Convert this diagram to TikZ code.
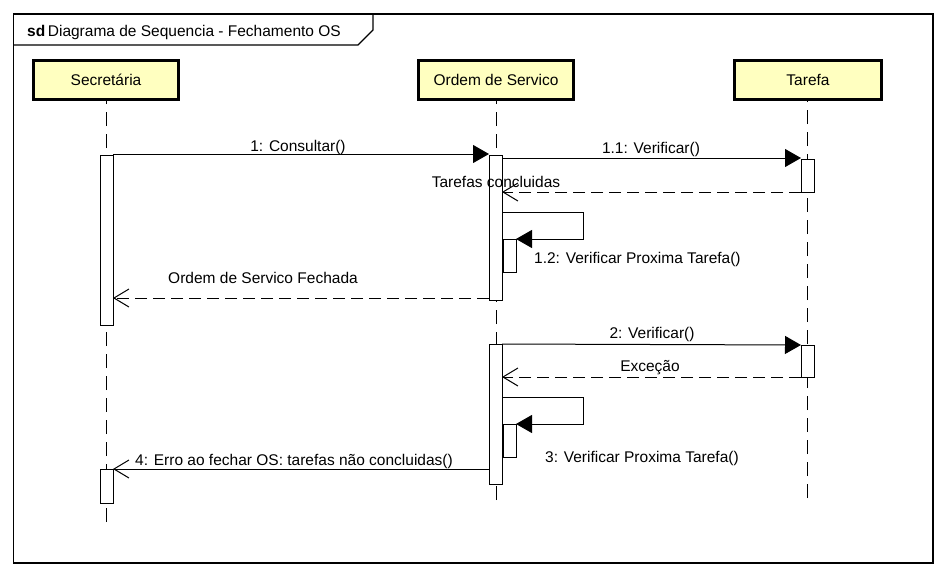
\documentclass[tikz,border=0pt]{standalone}
\usepackage{fontspec}
\setmainfont{Liberation Sans}
\usetikzlibrary{arrows.meta,calc}
\definecolor{headfill}{HTML}{FFFFC0}
\tikzset{
  every node/.style={font=\fontsize{15.5}{18}\selectfont},
  head/.style={draw, line width=3pt, fill=headfill, minimum height=39pt, inner sep=0pt, outer sep=0pt},
  act/.style={draw, fill=white, line width=1pt, minimum width=13pt, inner sep=0pt, outer sep=0pt, anchor=north west},
  life/.style={line width=1pt, dash pattern=on 14pt off 8pt},
  callmsg/.style={line width=1pt, -{Triangle[length=16pt,width=18pt]}},
  retmsg/.style={line width=1pt, dash pattern=on 12pt off 6pt, -{Straight Barb[length=15pt,width=18pt,line width=1pt]}},
  openmsg/.style={line width=1pt, -{Straight Barb[length=15pt,width=18pt,line width=1pt]}},
  lbl/.style={anchor=base, inner sep=0pt},
  lblw/.style={anchor=base west, inner sep=0pt}
}
\begin{document}
\begin{tikzpicture}[x=1pt,y=-1pt]
\useasboundingbox (0,0) rectangle (946,576);
% frame
\draw[line width=1.3pt] (13.5,14) rectangle (933,563);
\draw[line width=1.3pt] (13.5,45) -- (358,45) -- (373,30) -- (373,14);
\node[lblw] (title) at (27,36) {\textbf{sd}\,Diagrama de Sequencia - Fechamento OS};
% heads
\node[head, minimum width=145pt] (secr) at (106,80) {Secretária};
\node[head, minimum width=155pt] (ordem) at (496,80) {Ordem de Servico};
\node[head, minimum width=147pt] (tarefa) at (808,80) {Tarefa};
% lifeline ends
\coordinate (secrEnd) at (106,522);
\coordinate (ordemEnd) at (496,500);
\coordinate (tarefaEnd) at (807,498);
\draw[life] (secrEnd) -- (secr.south -| secrEnd);
\draw[life] (ordemEnd) -- (ordem.south -| ordemEnd);
\draw[life] (tarefaEnd) -- (tarefa.south -| tarefaEnd);
% activations
\node[act, minimum height=170pt] (s1) at (100,155) {};
\node[act, minimum height=145pt] (o1) at (489,155) {};
\node[act, minimum height=33pt] (t1) at (801,159) {};
\node[act, minimum height=33pt] (o1b) at (503,239) {};
\node[act, minimum height=140pt] (o2) at (489,344) {};
\node[act, minimum height=32pt] (t2) at (801,345) {};
\node[act, minimum height=33pt] (o2b) at (503,424) {};
\node[act, minimum height=34pt] (s2) at (100,469) {};
% self-call corners
\coordinate (c12a) at (583,212);
\coordinate (c12b) at (583,239);
\coordinate (c3a) at (583,397);
\coordinate (c3b) at (583,424);
% messages
\draw[callmsg] ($(s1.north east)+(0,-1)$) -- ($(o1.north west)+(0,-1)$);
\node[lbl] (l1) at (298,151) {1: Consultar()};
\draw[callmsg] ($(o1.east |- t1.north)+(0,-1)$) -- ($(t1.north west)+(0,-1)$);
\node[lbl] (l11) at (651,153) {1.1: Verificar()};
\draw[retmsg] (t1.south west) -- (o1.east |- t1.south);
\node[lbl] (lr11) at (496,187) {Tarefas concluidas};
\draw[callmsg] (o1.east |- c12a) -- (c12a) -- (c12b) -- (o1b.north east);
\node[lblw] (l12) at (534,263) {1.2: Verificar Proxima Tarefa()};
\draw[retmsg] ($(o1.south west)+(0,-2)$) -- ($(s1.east |- o1.south)+(0,-2)$);
\node[lbl] (lr1) at (263,283) {Ordem de Servico Fechada};
\draw[callmsg] (o2.north east) -- (t2.north west);
\node[lbl] (l2) at (652,338) {2: Verificar()};
\draw[retmsg] (t2.south west) -- (o2.east |- t2.south);
\node[lbl] (lr2) at (650,371) {Exceção};
\draw[callmsg] (o2.east |- c3a) -- (c3a) -- (c3b) -- (o2b.north east);
\node[lblw] (l3) at (545,462) {3: Verificar Proxima Tarefa()};
\draw[openmsg] (o2.west |- s2.north) -- (s2.north east);
\node[lblw] (l4) at (135,465) {4: Erro ao fechar OS: tarefas não concluidas()};
\end{tikzpicture}
\end{document}
